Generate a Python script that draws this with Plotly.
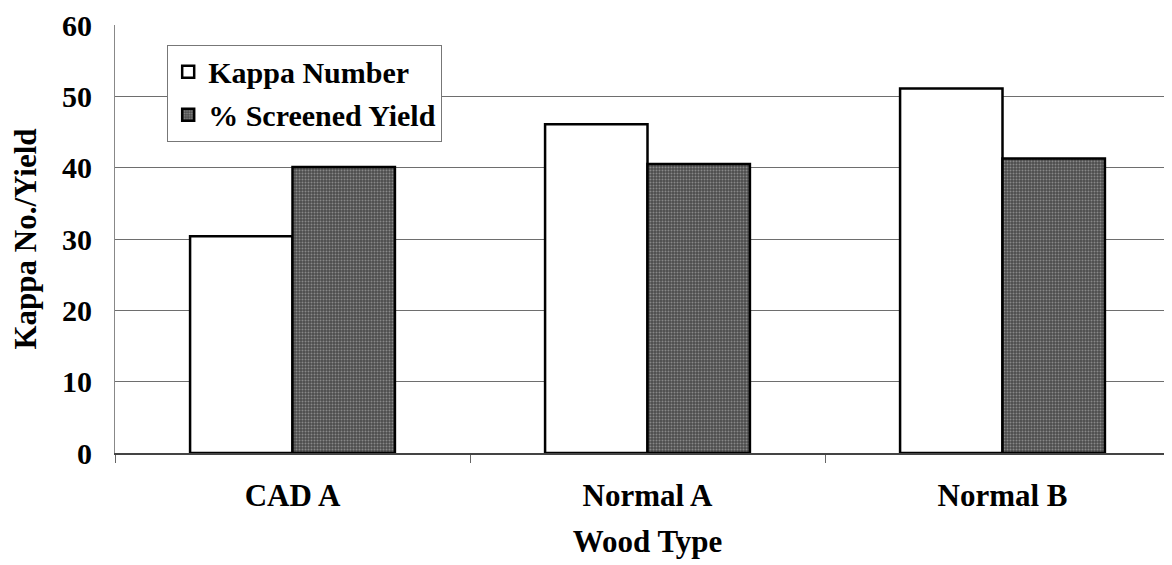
import plotly.graph_objects as go

categories = ["CAD A", "Normal A", "Normal B"]
kappa_number = [30.4, 46.1, 51.1]
screened_yield = [40.1, 40.5, 41.3]
y_ticks = [0, 10, 20, 30, 40, 50, 60]

FONT = "'Liberation Serif', 'Times New Roman', Times, serif"

fig = go.Figure()
fig.add_trace(go.Bar(
    x=categories, y=kappa_number, name="<b>Kappa Number</b>",
    legendgroup="a",
    marker=dict(color="white", line=dict(color="black", width=2.5)),
))
fig.add_trace(go.Bar(
    x=categories, y=screened_yield, name="<b>% Screened Yield</b>",
    legendgroup="b",
    marker=dict(color="#4c4c4c", line=dict(color="black", width=2.5),
                pattern=dict(shape=".", fgcolor="#c4c4c4", size=3, solidity=0.35)),
))

fig.update_layout(
    width=1172, height=565,
    margin=dict(l=107, r=0, t=17, b=120),
    paper_bgcolor="white", plot_bgcolor="white",
    barmode="group", bargap=0.423, bargroupgap=0,
    font=dict(family=FONT, color="black", size=30),
    showlegend=True,
    legend=dict(
        x=0.049, y=0.954, xanchor="left", yanchor="top",
        bgcolor="white", bordercolor="#777", borderwidth=1,
        font=dict(family=FONT, size=30, color="black"),
        traceorder="grouped", tracegroupgap=1,
        itemwidth=30,
    ),
    xaxis=dict(
        range=[-0.5, 2.5],
        tickfont=dict(family=FONT, size=31),
        tickvals=categories, ticktext=["<b>%s</b>" % c for c in categories],
        title=dict(text="<b>Wood Type</b>", font=dict(family=FONT, size=31), standoff=18),
        showline=True, linecolor="#444", linewidth=1.5,
        ticks="outside", tickson="boundaries", ticklen=8, tickcolor="#666",
        ticklabelstandoff=14,
        showgrid=False,
    ),
    yaxis=dict(
        range=[0, 60], tickvals=y_ticks,
        ticktext=["<b>%d</b>" % v for v in y_ticks],
        tickfont=dict(family=FONT, size=30),
        title=dict(text="<b>Kappa No./Yield</b>", font=dict(family=FONT, size=31), standoff=20),
        showline=True, linecolor="#888", linewidth=1,
        showgrid=True, gridcolor="#6e6e6e", gridwidth=1,
        ticks="", ticklabelstandoff=16,
        zeroline=False,
    ),
)

fig.write_html("out.html")
